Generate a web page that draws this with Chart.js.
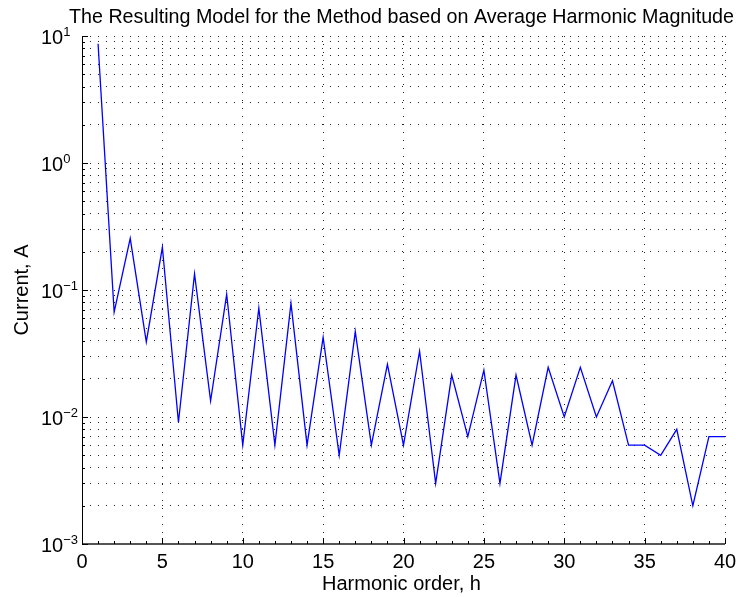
<!DOCTYPE html>
<html>
<head>
<meta charset="utf-8">
<script src="https://cdn.jsdelivr.net/npm/chart.js@4"></script>
<style>
  html, body { margin: 0; padding: 0; background: #fff; }
  canvas { display: block; }
</style>
</head>
<body>
<canvas id="chart" width="738" height="597"></canvas>
<script>
// Data
const harmonics = [1,2,3,4,5,6,7,8,9,10,11,12,13,14,15,16,17,18,19,20,21,22,23,24,25,26,27,28,29,30,31,32,33,34,35,36,37,38,39,40];
const currentA = [8.7, 0.067, 0.255, 0.039, 0.217, 0.0091, 0.134, 0.0134, 0.0925, 0.006,
                  0.072, 0.006, 0.0785, 0.006, 0.0424, 0.005, 0.047, 0.006, 0.026, 0.006,
                  0.033, 0.003, 0.0214, 0.007, 0.0234, 0.003, 0.0214, 0.006, 0.0246, 0.01,
                  0.0246, 0.01, 0.0193, 0.006, 0.006, 0.005, 0.008, 0.002, 0.007, 0.007];

const xTicks = [0, 5, 10, 15, 20, 25, 30, 35, 40];
const yDecades = [-3, -2, -1, 0, 1];
const yMinorMultipliers = [2, 3, 4, 5, 6, 7, 8, 9];

const TITLE = "The Resulting Model for the Method based on Average Harmonic Magnitude";
const X_LABEL = "Harmonic order, h";
const Y_LABEL = "Current, A";
const FONT = '"Liberation Sans", Arial, Helvetica, sans-serif';

// tick values for the log axis (majors + minors)
const yTickValues = [];
yDecades.forEach((d, i) => {
  yTickValues.push(Math.pow(10, d));
  if (i < yDecades.length - 1) yMinorMultipliers.forEach(m => yTickValues.push(m * Math.pow(10, d)));
});
const isMajorY = v => yDecades.some(d => Math.abs(v - Math.pow(10, d)) < 1e-12);

const matlabLook = {
  id: 'matlabLook',
  afterDraw(chart) {
    const ctx = chart.ctx;
    const { left, right, top, bottom } = chart.chartArea;
    const xs = chart.scales.x, ys = chart.scales.y;
    ctx.save();

    // axes lines
    ctx.strokeStyle = '#000';
    ctx.lineWidth = 1;
    ctx.beginPath();
    ctx.moveTo(left + 0.5, top);
    ctx.lineTo(left + 0.5, bottom);
    ctx.stroke();
    ctx.strokeStyle = '#555';
    ctx.lineWidth = 2;
    ctx.beginPath();
    ctx.moveTo(left, bottom);
    ctx.lineTo(right, bottom);
    ctx.stroke();

    // inward tick marks
    ctx.strokeStyle = '#000';
    ctx.lineWidth = 1;
    ctx.beginPath();
    yTickValues.forEach(v => {
      const y = Math.round(ys.getPixelForValue(v)) + 0.5;
      const len = isMajorY(v) ? 6 : 3;
      ctx.moveTo(left, y);
      ctx.lineTo(left + len, y);
    });
    for (let h = 0; h <= 40; h++) {
      const x = Math.round(xs.getPixelForValue(h)) + 0.5;
      const len = h % 5 === 0 ? 6 : 3;
      ctx.moveTo(x, bottom);
      ctx.lineTo(x, bottom - len);
    }
    ctx.stroke();

    ctx.fillStyle = '#000';
    // x tick labels
    ctx.font = '20px ' + FONT;
    ctx.textAlign = 'center';
    ctx.textBaseline = 'alphabetic';
    xTicks.forEach(t => ctx.fillText(String(t), xs.getPixelForValue(t), bottom + 24));

    // y tick labels: 10 with superscript exponent
    yDecades.forEach(d => {
      const y = ys.getPixelForValue(Math.pow(10, d));
      ctx.textAlign = 'left';
      ctx.font = '20px ' + FONT;
      ctx.fillText('10', 41, y + 8);
      const w = ctx.measureText('10').width;
      ctx.font = '13px ' + FONT;
      ctx.fillText(String(d).replace('-', '\u2212'), 41 + w, y - 0.5);
    });

    // title and axis labels
    ctx.font = '19.7px ' + FONT;
    ctx.textAlign = 'center';
    ctx.fillText(TITLE, 401.5, 23);
    ctx.font = '20px ' + FONT;
    ctx.fillText(X_LABEL, 401.5, 590);
    ctx.translate(28, (top + bottom) / 2);
    ctx.rotate(-Math.PI / 2);
    ctx.fillText(Y_LABEL, 0, 0);
    ctx.restore();
  }
};

new Chart(document.getElementById('chart'), {
  type: 'line',
  data: {
    datasets: [{
      data: harmonics.map((h, i) => ({ x: h, y: currentA[i] })),
      borderColor: '#0000ff',
      borderWidth: 1.3,
      pointRadius: 0,
      tension: 0,
      fill: false
    }]
  },
  options: {
    responsive: false,
    animation: false,
    devicePixelRatio: 1,
    layout: { padding: { left: 82, top: 36, right: 13, bottom: 53 } },
    plugins: { legend: { display: false }, tooltip: { enabled: false }, title: { display: false } },
    scales: {
      x: {
        type: 'linear', min: 0, max: 40,
        ticks: { display: false, stepSize: 1 },
        afterBuildTicks: s => { s.ticks = xTicks.map(v => ({ value: v })); },
        grid: { color: '#222', lineWidth: 1, drawTicks: false },
        border: { display: false, dash: [1, 7] }
      },
      y: {
        type: 'logarithmic', min: 0.001, max: 10,
        ticks: { display: false },
        afterBuildTicks: s => { s.ticks = yTickValues.map(v => ({ value: v })); },
        grid: { color: '#222', lineWidth: 1, drawTicks: false },
        border: { display: false, dash: [1, 7] }
      }
    }
  },
  plugins: [matlabLook]
});
</script>
</body>
</html>
